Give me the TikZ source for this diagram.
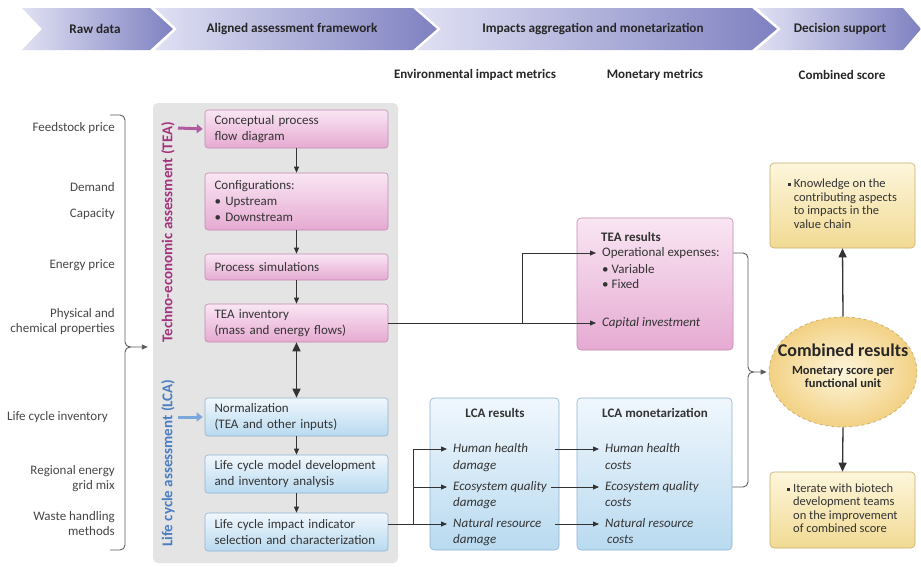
\documentclass[tikz,border=0pt]{standalone}
\usepackage{fontspec}
\setmainfont{Carlito}
\usetikzlibrary{arrows.meta,shapes.geometric,calc}
\definecolor{txt}{HTML}{333333}
\definecolor{teatop}{HTML}{F9E6F3}
\definecolor{teabot}{HTML}{E6AAD2}
\definecolor{teabd}{HTML}{C38AB0}
\definecolor{lcatop}{HTML}{F0F7FD}
\definecolor{lcabot}{HTML}{B9DAF0}
\definecolor{lcabd}{HTML}{8FB4D3}
\definecolor{yeltop}{HTML}{FDF6DC}
\definecolor{yelbot}{HTML}{F1DA93}
\definecolor{yelbd}{HTML}{C8AE6E}
\definecolor{panelc}{HTML}{E4E4E4}
\definecolor{teacol}{HTML}{A3347C}
\definecolor{lcacol}{HTML}{4A7DC2}
\definecolor{teaarrow}{HTML}{B35A9E}
\definecolor{lcaarrow}{HTML}{7BA7DA}
\definecolor{chevl}{HTML}{E0E1F3}
\definecolor{chevr}{HTML}{7F81C1}
\definecolor{arrowc}{HTML}{333333}
\newcommand{\sqbul}{\raisebox{1.8pt}{\rule{2.8pt}{2.8pt}}}
\begin{document}
\begin{tikzpicture}[x=1pt,y=-1pt,
  boxfont/.style={font=\fontsize{13}{16}\selectfont, text=txt},
  teabox/.style={draw=teabd, line width=0.6pt, rounded corners=3pt, top color=teatop, bottom color=teabot,
    text width=164pt, inner xsep=9.5pt, inner ysep=0pt, align=left, boxfont},
  lcabox/.style={teabox, draw=lcabd, top color=lcatop, bottom color=lcabot},
  resbox/.style={draw=teabd, line width=0.6pt, rounded corners=4pt, top color=teatop, bottom color=teabot, inner sep=0pt},
  lresbox/.style={resbox, draw=lcabd, top color=lcatop, bottom color=lcabot},
  yelbox/.style={draw=yelbd, line width=0.6pt, rounded corners=4pt, top color=yeltop, bottom color=yelbot,
    minimum width=145pt, inner sep=0pt, font=\fontsize{12.5}{13.5}\selectfont, text=txt},
  tline/.style={anchor=west, inner sep=3pt, text height=9pt, text depth=3pt, boxfont},
  ttl/.style={inner sep=2pt, font=\bfseries\fontsize{13}{15}\selectfont, text=txt},
  lab/.style={anchor=east, inner sep=0pt, align=right, font=\fontsize{13}{15}\selectfont, text=txt!90},
  chevtxt/.style={font=\bfseries\fontsize{13.2}{15}\selectfont, text=black!85},
  subt/.style={font=\bfseries\fontsize{13}{15}\selectfont, text=black!85},
  chev/.style={left color=chevl, right color=chevr},
  arr/.style={draw=arrowc, line width=0.8pt, -{Triangle[length=6pt,width=5pt]}},
  bigarr/.style={draw=arrowc, line width=1.3pt, -{Triangle[length=9pt,width=8pt]}},
  brk/.style={draw=arrowc!80, line width=0.9pt}
]
\fill[white] (0,0) rectangle (921,566);
\useasboundingbox (0,0) rectangle (921,566);

% chevrons
\shade[chev] (22,8) -- (150,8) -- (173,29) -- (150,50) -- (22,50) -- (42,29) -- cycle;
\shade[chev] (155,8) -- (413,8) -- (437,29) -- (413,50) -- (155,50) -- (177,29) -- cycle;
\shade[chev] (417,8) -- (752,8) -- (777,29) -- (752,50) -- (417,50) -- (441,29) -- cycle;
\shade[chev] (757,8) -- (903,8) -- (921,29) -- (903,50) -- (757,50) -- (781,29) -- cycle;
\node[chevtxt] (c1) at (95,29) {Raw data};
\node[chevtxt] (c2) at (292,29) {Aligned assessment framework};
\node[chevtxt] (c3) at (593,29) {Impacts aggregation and monetarization};
\node[chevtxt] (c4) at (840,29) {Decision support};

\node[subt] (s1) at (475,75) {Environmental impact metrics};
\node[subt] (s2) at (655,75) {Monetary metrics};
\node[subt] (s3) at (842,75) {Combined score};

% left labels
\node[lab] (l1) at (115,128) {Feedstock price};
\node[lab] (l2) at (115,187) {Demand};
\node[lab] (l3) at (115,214) {Capacity};
\node[lab] (l4) at (115,265) {Energy price};
\node[lab] (l5) at (115,322) {Physical and\\chemical properties};
\node[lab] (l6) at (108,417) {Life cycle inventory};
\node[lab] (l7) at (115,479) {Regional energy\\grid mix};
\node[lab] (l8) at (115,524) {Waste handling\\methods};

% panel
\node[fill=panelc, rounded corners=5pt, minimum width=245pt, minimum height=460pt, inner sep=0pt] (panel) at (275.5,333) {};
\node[rotate=90, font=\bfseries\fontsize{15}{17}\selectfont, text=teacol] (tealab) at (168,232) {Techno-economic assessment (TEA)};
\node[rotate=90, font=\bfseries\fontsize{15}{17}\selectfont, text=lcacol] (lcalab) at (168,463) {Life cycle assessment (LCA)};

% TEA boxes
\node[teabox, minimum height=38pt] (concept) at (296.5,129) {Conceptual process\\flow diagram};
\node[teabox, minimum height=57pt] (config) at (296.5,201.5) {Configurations:\\\textbullet\ Upstream\\\textbullet\ Downstream};
\node[teabox, minimum height=26pt] (procsim) at (296.5,267) {Process simulations};
\node[teabox, minimum height=38pt] (teainv) at (296.5,323) {TEA inventory\\(mass and energy flows)};
% LCA boxes
\node[lcabox, minimum height=38pt] (norm) at (296.5,417) {Normalization\\(TEA and other inputs)};
\node[lcabox, minimum height=38pt] (lcmodel) at (296.5,474) {Life cycle model development\\and inventory analysis};
\node[lcabox, minimum height=38pt] (lcimpact) at (296.5,532) {Life cycle impact indicator\\selection and characterization};

\coordinate (teain) at (178,128);
\coordinate (lcain) at (178,417);
\draw[teaarrow, line width=3pt, -{Triangle[length=6pt,width=9pt]}, shorten >=2pt] (teain) -- (concept.west);
\draw[lcaarrow, line width=3pt, -{Triangle[length=6pt,width=9pt]}, shorten >=2pt] (lcain) -- (norm.west);

\draw[arr] (concept) -- (config);
\draw[arr] (config) -- (procsim);
\draw[arr] (procsim) -- (teainv);
\draw[draw=arrowc, line width=1.5pt, {Triangle[length=9pt,width=8pt]}-{Triangle[length=9pt,width=8pt]}] (teainv) -- (norm);
\draw[arr] (norm) -- (lcmodel);
\draw[arr] (lcmodel) -- (lcimpact);

% left bracket
\coordinate (btop) at (110,115);
\coordinate (bbot) at (110,550);
\coordinate (bmid) at (125,347);
\draw[brk, rounded corners=5pt] (bbot) -| (bmid) -- ++(6,0);
\draw[brk, rounded corners=5pt, -{Triangle[length=6pt,width=5pt]}, shorten >=5pt] (btop) -| (bmid) -- (panel.west |- bmid);

% TEA results
\node[resbox, minimum width=156pt, minimum height=132pt] (teares) at (655,284) {};
\node[ttl, anchor=west] (teareslab) at (599,237) {TEA results};
\node[tline] (opex) at (599,253) {Operational expenses:};
\node[tline] (var) at (599,270) {\textbullet\ Variable};
\node[tline] (fixed) at (599,285) {\textbullet\ Fixed};
\node[tline] (capinv) at (599,323) {\textit{Capital investment}};
\coordinate (tsplit) at (522,323);
\draw[arr, shorten >=3pt] (teainv.east) -- (capinv.west);
\draw[arr, shorten >=3pt] (tsplit) |- (opex.west);

% LCA results
\node[lresbox, minimum width=129pt, minimum height=152pt] (lcares) at (494.5,474) {};
\node[lresbox, minimum width=155pt, minimum height=152pt] (lcamon) at (654.5,474) {};
\node[ttl] (lcareslab) at (495,413) {LCA results};
\node[ttl] (lcamonlab) at (655,413) {LCA monetarization};
\node[tline] (hh) at (450,449) {\textit{Human health}};
\node[tline] (hh2) at (450,466) {\textit{damage}};
\node[tline] (eq) at (450,487) {\textit{Ecosystem quality}};
\node[tline] (eq2) at (450,503) {\textit{damage}};
\node[tline] (nr) at (450,524) {\textit{Natural resource}};
\node[tline] (nr2) at (450,540) {\textit{damage}};
\node[tline] (mhh) at (602,449) {\textit{Human health}};
\node[tline] (mhh2) at (602,466) {\textit{costs}};
\node[tline] (meq) at (602,487) {\textit{Ecosystem quality}};
\node[tline] (meq2) at (602,503) {\textit{costs}};
\node[tline] (mnr) at (602,524) {\textit{Natural resource}};
\node[tline] (mnr2) at (604,540) {\textit{costs}};
\coordinate (lsplit) at (413,524);
\draw[arr, shorten >=3pt] (lcimpact.east |- nr) -- (nr.west);
\draw[arr, shorten >=3pt] (lsplit) |- (hh.west);
\draw[arr, shorten >=3pt] (lsplit) |- (eq.west);
\draw[arr, shorten >=3pt] ([xshift=-4pt]lcares.east |- hh.west) -- (mhh.west);
\draw[arr, shorten >=3pt] ([xshift=-8pt]lcares.east |- eq.west) -- (meq.west);
\draw[arr, shorten >=3pt] ([xshift=-4pt]lcares.east |- nr.west) -- (mnr.west);

% combined
\node[ellipse, draw=yelbd, dashed, line width=0.7pt, inner color=yeltop, outer color=yelbot!90!orange, minimum width=148pt, minimum height=110pt] (comb) at (843,372) {};
\node[font=\bfseries\fontsize{18}{19}\selectfont, text=black!85, inner sep=0pt] (combt) at (843,350) {Combined results};
\node[align=center, font=\bfseries\fontsize{12.5}{13.5}\selectfont, text=black!85, inner sep=0pt] (combs) at (843,377) {Monetary score per\\functional unit};

\coordinate (rb) at (748,372);
\draw[brk, rounded corners=5pt] (lcamon.east |- meq) -| (rb) -- ++(6,0);
\draw[brk, rounded corners=5pt, -{Triangle[length=6pt,width=5pt]}, shorten >=2pt] (teares.east |- opex) -| (rb) -- (comb.west);

\node[yelbox, minimum height=85pt] (know) at (842.5,205.5) {\begin{tabular}{@{}l@{\hspace{3pt}}l@{}}\sqbul & Knowledge on the\\ & contributing aspects\\ & to impacts in the\\ & value chain\end{tabular}};
\node[yelbox, minimum height=76pt] (iter) at (842.5,510) {\begin{tabular}{@{}l@{\hspace{3pt}}l@{}}\sqbul & Iterate with biotech\\ & development teams\\ & on the improvement\\ & of combined score\end{tabular}};
\draw[bigarr] (comb.north) -- (know.south);
\draw[bigarr] (comb.south) -- (iter.north);
\end{tikzpicture}
\end{document}
